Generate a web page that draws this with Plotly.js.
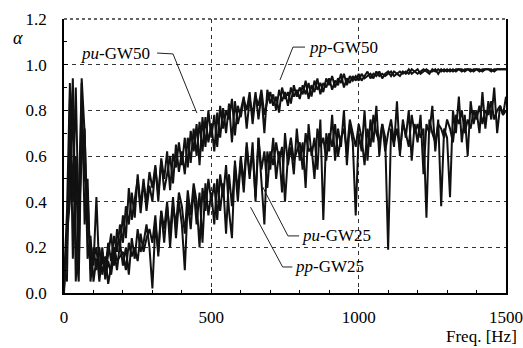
<!DOCTYPE html>
<html>
<head>
<meta charset="utf-8">
<script src="https://cdn.plot.ly/plotly-3.0.1.min.js"></script>
<style>html,body{margin:0;padding:0;background:#fff;}#chart{width:523px;height:348px;}</style>
</head>
<body>
<div id="chart"></div>
<script>
// Frequency step of the sampled curves (Hz)
const freqStep = 10;
const freqMax = 1500;

// Absorption coefficient alpha, one value per 10 Hz from 0 to 1500 Hz
const puGW50 = [
  0.05,0.35,0.92,0.15,0.60,0.10,0.94,0.70,0.30,0.20,
  0.12,0.42,0.08,0.15,0.10,0.22,0.14,0.25,0.18,0.30,
  0.22,0.38,0.30,0.44,0.33,0.52,0.38,0.50,0.36,0.47,
  0.40,0.55,0.43,0.58,0.45,0.52,0.60,0.48,0.65,0.53,
  0.62,0.52,0.68,0.57,0.72,0.60,0.75,0.62,0.77,0.66,
  0.74,0.62,0.79,0.68,0.81,0.70,0.83,0.66,0.84,0.74,
  0.80,0.86,0.72,0.85,0.78,0.88,0.76,0.87,0.70,0.89,
  0.83,0.87,0.80,0.89,0.84,0.88,0.82,0.90,0.86,0.89,
  0.85,0.91,0.87,0.92,0.86,0.93,0.89,0.92,0.88,0.94,
  0.91,0.95,0.90,0.94,0.92,0.96,0.91,0.95,0.93,0.95,
  0.93,0.96,0.94,0.95,0.96,0.94,0.97,0.95,0.96,0.95,
  0.96,0.97,0.95,0.96,0.97,0.96,0.97,0.96,0.98,0.97,
  0.96,0.97,0.98,0.97,0.96,0.98,0.97,0.98,0.97,0.98,
  0.97,0.98,0.97,0.98,0.98,0.97,0.98,0.98,0.97,0.98,
  0.98,0.98,0.97,0.98,0.98,0.98,0.97,0.98,0.98,0.98,0.98
];
const ppGW50 = [
  0.02,0.20,0.60,0.94,0.20,0.05,0.75,0.50,0.45,0.10,
  0.15,0.20,0.05,0.18,0.08,0.16,0.26,0.12,0.28,0.20,
  0.34,0.24,0.46,0.32,0.41,0.50,0.35,0.48,0.40,0.53,
  0.46,0.56,0.40,0.59,0.50,0.62,0.45,0.61,0.55,0.66,
  0.56,0.68,0.55,0.71,0.62,0.74,0.56,0.77,0.64,0.80,
  0.68,0.78,0.64,0.82,0.72,0.80,0.76,0.85,0.69,0.82,
  0.77,0.85,0.80,0.88,0.74,0.86,0.82,0.89,0.78,0.84,
  0.88,0.82,0.86,0.79,0.90,0.85,0.88,0.83,0.91,0.86,
  0.90,0.87,0.93,0.85,0.91,0.88,0.94,0.87,0.92,0.90,
  0.94,0.89,0.93,0.91,0.96,0.90,0.94,0.92,0.95,0.93,
  0.96,0.93,0.95,0.97,0.94,0.96,0.95,0.97,0.94,0.96,
  0.97,0.95,0.97,0.96,0.95,0.97,0.96,0.98,0.96,0.97,
  0.98,0.96,0.97,0.98,0.97,0.97,0.98,0.96,0.98,0.97,
  0.98,0.97,0.98,0.97,0.98,0.98,0.97,0.98,0.98,0.97,
  0.98,0.97,0.98,0.98,0.98,0.97,0.98,0.98,0.98,0.98,0.98
];
const puGW25 = [
  0.10,0.05,0.85,0.40,0.90,0.30,0.60,0.72,0.15,0.25,
  0.05,0.15,0.10,0.20,0.06,0.14,0.08,0.18,0.10,0.22,
  0.12,0.20,0.08,0.24,0.15,0.28,0.18,0.22,0.30,0.20,
  0.02,0.30,0.18,0.36,0.22,0.38,0.26,0.42,0.24,0.40,
  0.30,0.10,0.40,0.28,0.46,0.30,0.44,0.22,0.48,0.34,
  0.44,0.30,0.50,0.36,0.48,0.26,0.52,0.38,0.56,0.40,
  0.58,0.44,0.64,0.50,0.66,0.40,0.68,0.50,0.30,0.62,
  0.54,0.68,0.50,0.62,0.44,0.70,0.56,0.64,0.52,0.72,
  0.58,0.66,0.46,0.74,0.60,0.68,0.54,0.76,0.32,0.70,
  0.62,0.78,0.58,0.72,0.64,0.80,0.56,0.74,0.66,0.34,
  0.70,0.62,0.80,0.58,0.76,0.66,0.82,0.60,0.74,0.68,
  0.19,0.72,0.64,0.84,0.60,0.76,0.68,0.80,0.58,0.74,
  0.66,0.78,0.52,0.74,0.70,0.82,0.62,0.76,0.38,0.72,
  0.68,0.42,0.80,0.70,0.86,0.66,0.78,0.60,0.84,0.74,
  0.80,0.70,0.88,0.72,0.84,0.76,0.90,0.70,0.82,0.78,0.86
];
const ppGW25 = [
  0.00,0.25,0.40,0.88,0.05,0.40,0.92,0.30,0.50,0.05,
  0.20,0.10,0.20,0.08,0.16,0.04,0.12,0.20,0.14,0.16,
  0.18,0.10,0.22,0.16,0.20,0.14,0.26,0.18,0.24,0.28,
  0.22,0.34,0.16,0.36,0.28,0.40,0.20,0.38,0.30,0.44,
  0.38,0.26,0.45,0.34,0.48,0.40,0.20,0.46,0.36,0.50,
  0.40,0.48,0.32,0.52,0.42,0.56,0.36,0.24,0.58,0.44,
  0.60,0.48,0.66,0.52,0.62,0.42,0.68,0.54,0.62,0.46,
  0.62,0.56,0.66,0.58,0.64,0.40,0.60,0.68,0.58,0.62,
  0.66,0.54,0.70,0.62,0.64,0.50,0.72,0.64,0.68,0.58,
  0.70,0.64,0.74,0.60,0.68,0.72,0.62,0.76,0.70,0.64,
  0.74,0.68,0.56,0.72,0.64,0.78,0.70,0.66,0.74,0.62,
  0.70,0.76,0.66,0.72,0.62,0.74,0.70,0.64,0.78,0.70,
  0.74,0.68,0.72,0.33,0.76,0.70,0.66,0.74,0.72,0.68,
  0.76,0.72,0.66,0.78,0.74,0.80,0.70,0.76,0.72,0.80,
  0.76,0.82,0.74,0.80,0.78,0.84,0.76,0.80,0.82,0.78,0.80
];

const xTickVals = [0, 500, 1000, 1500];
const xTickText = ['0', '500', '1000', '1500'];
const yTickVals = [0, 0.2, 0.4, 0.6, 0.8, 1.0, 1.2];
const yTickText = ['0.0', '0.2', '0.4', '0.6', '0.8', '1.0', '1.2'];

const seriesNames = ['pu-GW50', 'pp-GW50', 'pu-GW25', 'pp-GW25'];
const seriesValues = [puGW50, ppGW50, puGW25, ppGW25];

const freq = [];
for (let f = 0; f <= freqMax; f += freqStep) freq.push(f);

const traces = seriesValues.map((vals, k) => ({
  x: freq.slice(0, vals.length),
  y: vals,
  type: 'scatter',
  mode: 'lines',
  name: seriesNames[k],
  line: {color: '#111', width: 2}
}));

const FONT = 'Liberation Serif, Times New Roman, serif';
const leader = (pts) => {
  const out = [];
  for (let i = 0; i < pts.length - 1; i++) {
    out.push({type: 'line', xref: 'x', yref: 'y',
      x0: pts[i][0], y0: pts[i][1], x1: pts[i+1][0], y1: pts[i+1][1],
      line: {color: '#222', width: 1}});
  }
  return out;
};

const shapes = [
  {type: 'line', xref: 'paper', yref: 'paper', x0: 0, x1: 1, y0: 1, y1: 1,
   line: {color: '#333', width: 1.5, dash: 'dot'}},
  ...leader([[316, 1.051], [370, 1.047], [451, 0.788]]),
  ...leader([[818, 1.077], [777, 1.077], [733, 0.933]]),
  ...leader([[798, 0.25], [760, 0.25], [674, 0.465]]),
  ...leader([[775, 0.114], [742, 0.114], [633, 0.376]])
];

const ann = (text, x, y, xanchor) => ({text, x, y, xref: 'x', yref: 'y', xanchor,
  yanchor: 'middle', showarrow: false, font: {family: FONT, size: 17, color: '#000'}});

const layout = {
  width: 523, height: 348,
  margin: {l: 64, r: 17, t: 19, b: 55},
  paper_bgcolor: '#fff', plot_bgcolor: '#fff',
  showlegend: false,
  font: {family: FONT, size: 17, color: '#000'},
  xaxis: {
    range: [0, 1500], tickvals: xTickVals, ticktext: xTickText,
    showgrid: true, gridcolor: '#333', gridwidth: 1, griddash: '4px,4px',
    showline: true, linecolor: '#000', linewidth: 1.5, mirror: false,
    ticks: 'inside', ticklen: 4, tickcolor: '#000', zeroline: false,
    minor: {dtick: 100, ticks: 'inside', ticklen: 3, tickcolor: '#000', showgrid: false},
    ticklabelstandoff: 8, ticklabeloverflow: 'allow',
    tickfont: {family: FONT, size: 17, color: '#000'}
  },
  yaxis: {
    range: [0, 1.2], tickvals: yTickVals, ticktext: yTickText,
    showgrid: true, gridcolor: '#333', gridwidth: 1, griddash: '4px,4px',
    showline: true, linecolor: '#000', linewidth: 1.8, mirror: true,
    ticks: 'inside', ticklen: 4, tickcolor: '#000', zeroline: false,
    minor: {dtick: 0.1, ticks: 'inside', ticklen: 3, tickcolor: '#000', showgrid: false},
    ticklabelstandoff: 12, ticklabeloverflow: 'allow',
    tickfont: {family: FONT, size: 17, color: '#000'}
  },
  shapes,
  annotations: [
    ann('<i>pu</i>-GW50', 300, 1.051, 'right'),
    ann('<i>pp</i>-GW50', 824, 1.075, 'left'),
    ann('<i>pu</i>-GW25', 801, 0.25, 'left'),
    ann('<i>pp</i>-GW25', 777, 0.114, 'left'),
    {text: '<i>α</i>', xref: 'paper', yref: 'paper', x: -0.105, y: 0.931,
     xanchor: 'center', yanchor: 'middle', showarrow: false,
     font: {family: FONT, size: 18, color: '#000'}},
    {text: 'Freq. [Hz]', xref: 'paper', yref: 'paper', x: 1.03, y: -0.16,
     xanchor: 'right', yanchor: 'middle', showarrow: false,
     font: {family: FONT, size: 17, color: '#000'}}
  ]
};

Plotly.newPlot('chart', traces, layout, {displayModeBar: false, staticPlot: true});
</script>
</body>
</html>
